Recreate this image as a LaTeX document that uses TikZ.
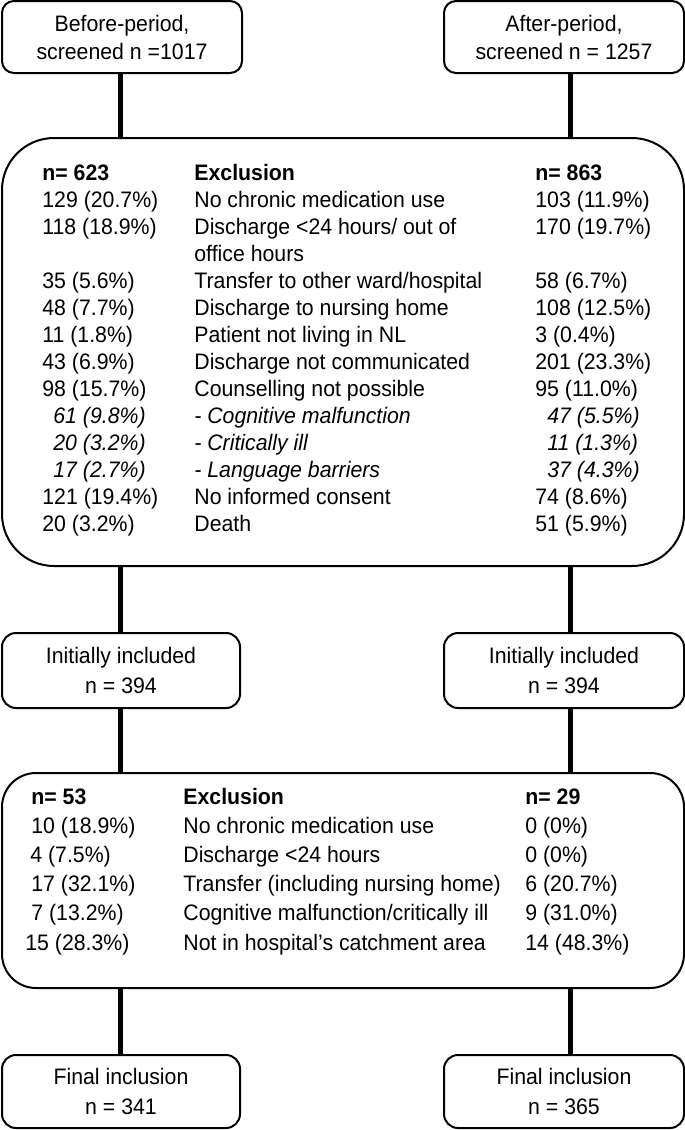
\documentclass[tikz,border=0pt]{standalone}
\usepackage{fontspec}
\setmainfont{Liberation Sans}[FakeStretch=0.95]
\usetikzlibrary{positioning}
\newcommand{\cellfont}{\fontsize{11.2}{13.5}\selectfont}

\begin{document}
\begin{tikzpicture}[x=0.5pt,y=-0.5pt,
    box/.style={draw, line width=1pt, rounded corners=6pt, align=center,
      inner sep=0pt, minimum width=120pt, minimum height=36pt},
    bigbox/.style={draw, line width=1pt, inner sep=0pt, minimum width=341pt},
    cell/.style={anchor=base west, inner sep=0pt, font=\cellfont},
    link/.style={line width=2.5pt}
  ]
    \useasboundingbox (0,0) rectangle (685,1130);

    % screening
    \node[box, font=\fontsize{11.2}{14}\selectfont] (before) at (122,37) {Before-period,\\screened n =1017};
    \node[box, font=\fontsize{11.2}{14}\selectfont] (after) at (564,37) {After-period,\\screened n = 1257};

    % first exclusion
    \node[bigbox, minimum height=214pt, rounded corners=26pt] (excl1) at (343,352) {};
    \node[cell, font=\cellfont\bfseries] (e1n1) at (42,180) {n= 623};
    \node[cell, font=\cellfont\bfseries] (e1hd) at (194,180) {Exclusion};
    \node[cell, font=\cellfont\bfseries] (e1n2) at (535,180) {n= 863};
    \foreach \y/\a/\b/\c [count=\i] in {
        207/129 (20.7\%)/No chronic medication use/103 (11.9\%),
        234/118 (18.9\%)/{Discharge <24 hours/ out of}/170 (19.7\%),
        288/35 (5.6\%)/{Transfer to other ward/hospital}/58 (6.7\%),
        315/48 (7.7\%)/Discharge to nursing home/108 (12.5\%),
        342/11 (1.8\%)/Patient not living in NL/3 (0.4\%),
        369/43 (6.9\%)/Discharge not communicated/201 (23.3\%),
        396/98 (15.7\%)/Counselling not possible/95 (11.0\%),
        504/121 (19.4\%)/No informed consent/74 (8.6\%),
        531/20 (3.2\%)/Death/51 (5.9\%)} {
      \node[cell] (e1a\i) at (42,\y) {\a};
      \node[cell] (e1b\i) at (194,\y) {\b};
      \node[cell] (e1c\i) at (535,\y) {\c};
    }
    \node[cell] (e1cont) at (194,261) {office hours};
    \foreach \y/\a/\b/\c [count=\i] in {
        423/61 (9.8\%)/- Cognitive malfunction/47 (5.5\%),
        450/20 (3.2\%)/- Critically ill/11 (1.3\%),
        477/17 (2.7\%)/- Language barriers/37 (4.3\%)} {
      \node[cell, font=\cellfont\itshape] (e1sa\i) at (53,\y) {\a};
      \node[cell, font=\cellfont\itshape] (e1sb\i) at (194,\y) {\b};
      \node[cell, font=\cellfont\itshape] (e1sc\i) at (547,\y) {\c};
    }

    % initially included
    \node[box, minimum width=119pt, minimum height=37.5pt, rounded corners=7pt,
      font=\fontsize{11.2}{15}\selectfont] (init1) at (121,670.5) {Initially included\\n = 394};
    \node[box, minimum height=37.5pt, rounded corners=7pt,
      font=\fontsize{11.2}{15}\selectfont] (init2) at (564,670.5) {Initially included\\n = 394};

    % second exclusion
    \node[bigbox, minimum height=107.5pt, rounded corners=17pt] (excl2) at (343,880.5) {};
    \node[cell, font=\cellfont\bfseries] (e2n1) at (31,804) {n= 53};
    \node[cell, font=\cellfont\bfseries] (e2hd) at (183,804) {Exclusion};
    \node[cell, font=\cellfont\bfseries] (e2n2) at (525,804) {n= 29};
    \foreach \y/\x/\a/\b/\c [count=\i] in {
        833.2/31/10 (18.9\%)/No chronic medication use/0 (0\%),
        862.4/30/4 (7.5\%)/Discharge <24 hours/0 (0\%),
        891.6/31/17 (32.1\%)/Transfer (including nursing home)/6 (20.7\%),
        920.8/31/7 (13.2\%)/{Cognitive malfunction/critically ill}/9 (31.0\%),
        950/25/15 (28.3\%)/Not in hospital’s catchment area/14 (48.3\%)} {
      \node[cell] (e2a\i) at (\x,\y) {\a};
      \node[cell] (e2b\i) at (183,\y) {\b};
      \node[cell] (e2c\i) at (525,\y) {\c};
    }

    % final inclusion
    \node[box, minimum width=119pt, minimum height=36.5pt, rounded corners=7pt,
      font=\fontsize{11.2}{15}\selectfont] (fin1) at (121,1091.5) {Final inclusion\\n = 341};
    \node[box, minimum height=36.5pt, rounded corners=7pt,
      font=\fontsize{11.2}{15}\selectfont] (fin2) at (564,1091.5) {Final inclusion\\n = 365};

    % connectors
    \draw[link] ([xshift=-1pt]before.south) -- ([xshift=-1pt]before.south |- excl1.north);
    \draw[link] ([xshift=3pt]after.south) -- ([xshift=3pt]after.south |- excl1.north);
    \draw[link] ([xshift=-0.5pt]init1.north |- excl1.south) -- ([xshift=-0.5pt]init1.north);
    \draw[link] ([xshift=3pt]init2.north |- excl1.south) -- ([xshift=3pt]init2.north);
    \draw[link] ([xshift=-0.5pt]init1.south) -- ([xshift=-0.5pt]init1.south |- excl2.north);
    \draw[link] ([xshift=3pt]init2.south) -- ([xshift=3pt]init2.south |- excl2.north);
    \draw[link] ([xshift=-0.5pt]fin1.north |- excl2.south) -- ([xshift=-0.5pt]fin1.north);
    \draw[link] ([xshift=3pt]fin2.north |- excl2.south) -- ([xshift=3pt]fin2.north);
\end{tikzpicture}
\end{document}
